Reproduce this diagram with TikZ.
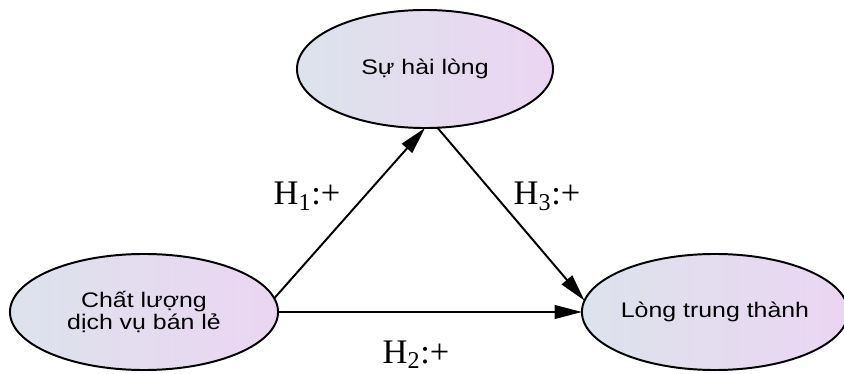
\documentclass[tikz,border=0pt]{standalone}
\usepackage{fontspec}
\usepackage{xcolor}
\usetikzlibrary{shapes.geometric, arrows.meta, positioning, calc}
\setmainfont{Liberation Serif}
\newfontfamily\ellfont[FakeStretch=1.18]{Liberation Sans}
\definecolor{ellLeft}{HTML}{DCE3EC}
\definecolor{ellRight}{HTML}{ECD5F2}

\begin{document}
\begin{tikzpicture}[x={0.025cm}, y={-0.025cm},
  construct/.style={ellipse, draw=black, line width=1.4pt, left color=ellLeft, right color=ellRight,
    inner sep=0pt, outer sep=0pt, align=center, font=\ellfont\fontsize{15}{15.5}\selectfont},
  path/.style={line width=1.4pt, -{Triangle[length=0.68cm, width=0.34cm]}},
  hyp/.style={anchor=base, inner sep=0pt, font=\fontsize{24.5}{26}\selectfont}]
  % bounding box (844 x 374 px)
  \useasboundingbox (0,0) rectangle (844,374);

  % Constructs
  \node[construct, minimum width=6.7cm, minimum height=2.9cm] (quality) at (144,312) {Chất lượng\\dịch vụ bán lẻ};
  \node[construct, minimum width=6.4cm, minimum height=2.95cm] (satisf) at (425,69) {Sự hài lòng};
  \node[construct, minimum width=6.4cm, minimum height=2.9cm] (loyalty) at (715,312) {Lòng trung thành};

  % Hypotheses
  \draw[path] (quality.6) -- (satisf.south);
  \draw[path] (quality.east) -- (loyalty.west);
  \draw[path] (satisf.-78) -- (loyalty.175);

  % labels
  \node[hyp] (h1) at (307,205) {H\textsubscript{1}:+};
  \node[hyp] (h3) at (547,205) {H\textsubscript{3}:+};
  \node[hyp] (h2) at (416,363) {H\textsubscript{2}:+};
\end{tikzpicture}
\end{document}
